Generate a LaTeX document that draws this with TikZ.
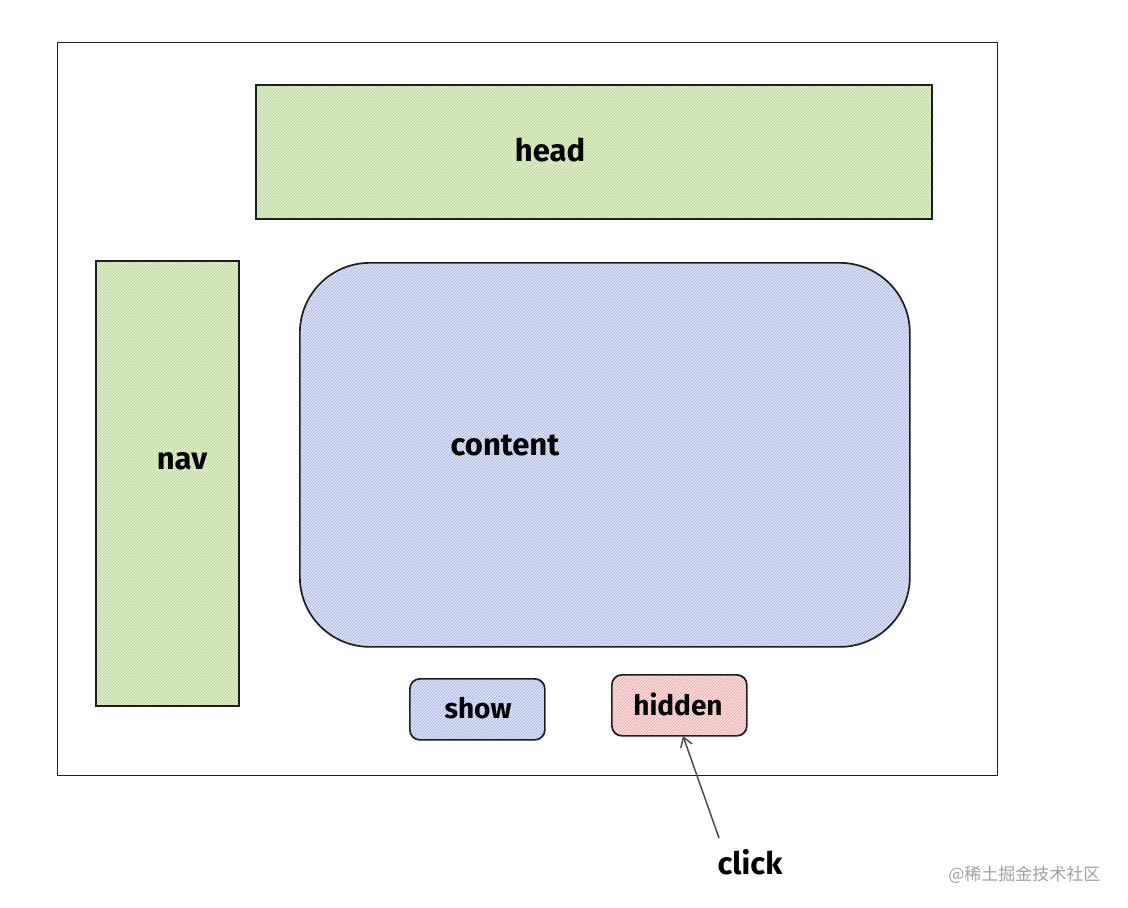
\documentclass[tikz,border=0pt]{standalone}
\usepackage{fontspec}
\setmainfont{Fira Sans}
\newfontfamily\cjk{Noto Sans CJK SC}
\usetikzlibrary{arrows.meta,patterns,positioning}

\begin{document}
\begin{tikzpicture}[x=1pt, y=-1pt, >={Straight Barb[length=9pt, width=12pt]}, font=\bfseries\fontsize{31}{36}\selectfont]
\definecolor{ink}{HTML}{1E1E1E}
\definecolor{greenfill}{HTML}{E6F2D6}
\definecolor{greenline}{HTML}{A9D17E}
\definecolor{bluefill}{HTML}{E3E8F8}
\definecolor{blueline}{HTML}{9AA9E0}
\definecolor{redfill}{HTML}{FBE3E3}
\definecolor{redline}{HTML}{EC9A9A}
\definecolor{mark}{HTML}{A0A0A0}
\tikzset{
  box/.style={draw=ink, line width=1.7pt, anchor=north west, inner sep=0pt},
  greenbox/.style={box, preaction={fill=greenfill}, pattern=north east lines, pattern color=greenline},
  bluebox/.style={box, preaction={fill=bluefill}, pattern=north east lines, pattern color=blueline},
  redbox/.style={box, preaction={fill=redfill}, pattern=north east lines, pattern color=redline},
  btn/.style={minimum width=135pt, minimum height=61pt, rounded corners=10pt}
}
\useasboundingbox (0,0) rectangle (1128,908);
% page frame
\node[draw=ink, line width=1.2pt, anchor=north west, minimum width=940pt, minimum height=733pt] (page) at (57,42) {};
% layout blocks
\node[greenbox, minimum width=676pt, minimum height=134pt] (head) at (255,84) {};
\node at (550,150) {head};
\node[greenbox, minimum width=143pt, minimum height=445pt] (nav) at (95,260) {};
\node at (182,461) {nav};
\node[bluebox, rounded corners=70pt, minimum width=610pt, minimum height=384pt] (content) at (299,262) {};
\node at (505,445) {content};
% buttons
\node[bluebox, btn] (show) at (409,678) {};
\node[font=\bfseries\fontsize{28}{32}\selectfont] at (478,708) {show};
\node[redbox, btn] (hidden) at (611,674) {};
\node[font=\bfseries\fontsize{28}{32}\selectfont] at (678,704) {hidden};
% click
\node (click) at (750,862) {click};
\coordinate (c0) at (719,838);
\draw[->, ink!80, line width=1.5pt] (c0) -- (683,736);
% watermark
\node[anchor=east, text=mark, font=\cjk\fontsize{17}{20}\selectfont] (wm) at (1104,875) {@稀土掘金技术社区};
\end{tikzpicture}
\end{document}
